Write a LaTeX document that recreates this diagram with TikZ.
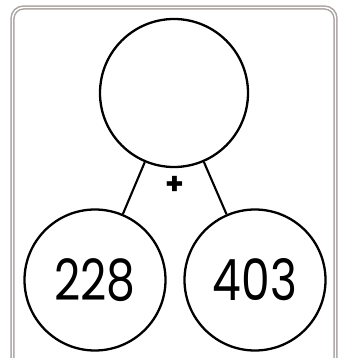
\documentclass[tikz,border=0pt]{standalone}
\usepackage{fontspec}
\setmainfont{Poppins}
\usetikzlibrary{positioning}
\definecolor{bdgray}{HTML}{ABA1A1}

\begin{document}
\begin{tikzpicture}[
  x=1pt, y=-1pt,
  numcircle/.style={circle, draw, line width=2.3pt, inner sep=0pt, font=\fontsize{57}{60}\selectfont},
  bond/.style={line width=2.1pt},
]
\useasboundingbox (0,0) rectangle (346,358);
\clip (0,0) rectangle (346,358);
\draw[bdgray, line width=1.5pt, double=white, double distance=1.4pt, rounded corners=11pt] (12.5,7.5) rectangle (335.5,375);

\node[numcircle, minimum size=148pt] (whole) at (174,93) {};
\node[numcircle, minimum size=141pt] (partA) at (95,280) {\scalebox{0.8}[1]{228}};
\node[numcircle, minimum size=141pt] (partB) at (255,280) {\scalebox{0.8}[1]{403}};

\draw[bond] (whole) -- (partA);
\draw[bond] (whole) -- (partB);
\node[font=\fontsize{30}{30}\selectfont\bfseries] (plus) at (175,185) {+};
\end{tikzpicture}
\end{document}
